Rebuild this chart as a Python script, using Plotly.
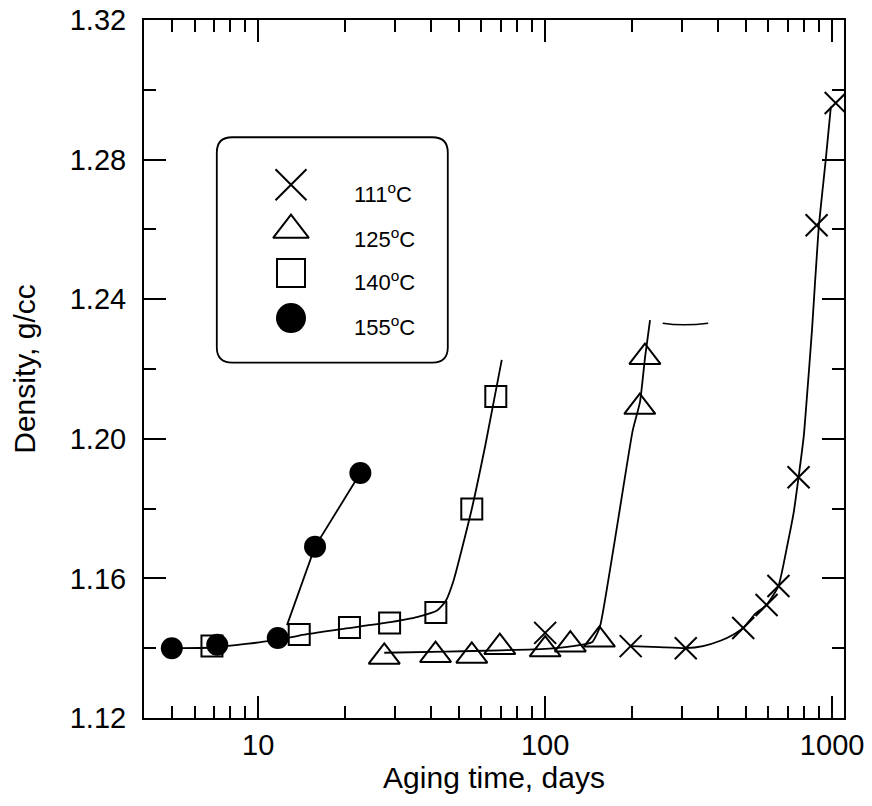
import plotly.graph_objects as go

# ---- data ----
x111 = [100, 198.6, 309, 490, 591, 650, 764, 883, 1029]
y111 = [1.1444, 1.1406, 1.1400, 1.1458, 1.1524, 1.1578, 1.1890, 1.2612, 1.2962]

x125 = [27.5, 41.5, 55.5, 69.5, 100, 122.4, 154.6, 213.7, 222.6]
y125 = [1.1375, 1.1380, 1.1378, 1.1403, 1.1396, 1.1410, 1.1424, 1.2091, 1.2234]

x140 = [6.9, 13.9, 20.8, 28.7, 41.6, 55.5, 67.3]
y140 = [1.1406, 1.1439, 1.1459, 1.1472, 1.1502, 1.1799, 1.2121]

x155 = [5.0, 7.2, 11.7, 15.78, 22.7]
y155 = [1.1400, 1.1410, 1.1429, 1.1691, 1.1902]

# fitted curves drawn through the data
fit111_x = [198.6, 250, 309, 355, 410, 450, 490, 540, 591, 650, 700, 735, 764, 797, 817, 851, 897, 950, 990]
fit111_y = [1.1406, 1.1403, 1.1400, 1.1406, 1.1422, 1.1438, 1.1458, 1.1499, 1.1524, 1.1578, 1.1700, 1.1790,
            1.1890, 1.2010, 1.2120, 1.2312, 1.2600, 1.2799, 1.2952]

fit125_x = [27.5, 45, 70, 100, 125, 146, 155, 166, 183, 202, 214, 223, 232]
fit125_y = [1.1387, 1.1390, 1.1394, 1.1398, 1.1406, 1.1418, 1.1460, 1.1595, 1.1810, 1.2025, 1.2105, 1.2235, 1.2340]

fit140_x = [5, 7, 12, 14, 20, 28, 36, 42, 45, 48, 55.5, 62, 70.6]
fit140_y = [1.1400, 1.1402, 1.1425, 1.1437, 1.1456, 1.1473, 1.1490, 1.1508, 1.1535, 1.1595, 1.1799, 1.1985, 1.2226]

fit155_x = [12.6, 15.78, 22.7]
fit155_y = [1.1466, 1.1691, 1.1902]

series_names = ["111<sup>o</sup>C", "125<sup>o</sup>C", "140<sup>o</sup>C", "155<sup>o</sup>C"]

x_tickvals = [10, 100, 1000]
x_ticktext = ["10", "100", "1000"]
x_minor = [5, 6, 7, 8, 9, 20, 30, 40, 50, 60, 70, 80, 90, 200, 300, 400, 500, 600, 700, 800, 900]
y_tickvals = [1.12, 1.16, 1.20, 1.24, 1.28, 1.32]
y_ticktext = ["1.12", "1.16", "1.20", "1.24", "1.28", "1.32"]
y_minor = [1.14, 1.18, 1.22, 1.26, 1.30]

FONT = "Liberation Sans, Arial, sans-serif"
BLACK = "black"

fig = go.Figure()

# fit lines
for fx, fy, shape in [(fit111_x, fit111_y, "spline"), (fit125_x, fit125_y, "spline"),
                      (fit140_x, fit140_y, "spline"), (fit155_x, fit155_y, "linear")]:
    fig.add_trace(go.Scatter(x=fx, y=fy, mode="lines",
                             line=dict(color=BLACK, width=1.8, shape=shape, smoothing=0.5),
                             showlegend=False, hoverinfo="skip"))

# markers
sym = dict(
    s111=dict(symbol="x-thin-open", size=22, color=BLACK, line=dict(color=BLACK, width=2)),
    s125=dict(symbol="triangle-up-open", size=27, color=BLACK, line=dict(color=BLACK, width=2)),
    s140=dict(symbol="square-open", size=21, color=BLACK, line=dict(color=BLACK, width=2)),
    s155=dict(symbol="circle", size=22, color=BLACK, line=dict(color=BLACK, width=0)),
)
fig.add_trace(go.Scatter(x=x140, y=y140, mode="markers", marker=sym["s140"], name=series_names[2], showlegend=False))
fig.add_trace(go.Scatter(x=x155, y=y155, mode="markers", marker=sym["s155"], name=series_names[3], showlegend=False))
fig.add_trace(go.Scatter(x=x125, y=y125, mode="markers", marker=sym["s125"], name=series_names[1], showlegend=False))
fig.add_trace(go.Scatter(x=x111, y=y111, mode="markers", marker=sym["s111"], name=series_names[0], showlegend=False))

# custom legend on an overlay axis (0..1 coordinates over the plot area)
leg_x = 0.21
leg_y = [0.764, 0.699, 0.6375, 0.573]
leg_markers = [
    dict(symbol="x-thin-open", size=31, color=BLACK, line=dict(color=BLACK, width=2)),
    dict(symbol="triangle-up-open", size=31, color=BLACK, line=dict(color=BLACK, width=2)),
    dict(symbol="square-open", size=28, color=BLACK, line=dict(color=BLACK, width=2)),
    dict(symbol="circle", size=30, color=BLACK, line=dict(color=BLACK, width=0)),
]
for yy, mk in zip(leg_y, leg_markers):
    fig.add_trace(go.Scatter(x=[leg_x], y=[yy], mode="markers", marker=mk, xaxis="x2", yaxis="y2",
                             showlegend=False, hoverinfo="skip"))
for yy, nm in zip(leg_y, series_names):
    fig.add_annotation(x=0.297, y=yy - 0.012, xref="paper", yref="paper", text=nm, showarrow=False,
                       xanchor="left", yanchor="middle", font=dict(family=FONT, size=22, color=BLACK))

# rounded legend box
x0, x1, y0, y1, r = 0.104, 0.434, 0.509, 0.832, 0.022
path = (f"M {x0+r},{y1} L {x1-r},{y1} Q {x1},{y1} {x1},{y1-r} L {x1},{y0+r} Q {x1},{y0} {x1-r},{y0} "
        f"L {x0+r},{y0} Q {x0},{y0} {x0},{y0+r} L {x0},{y1-r} Q {x0},{y1} {x0+r},{y1} Z")
fig.add_shape(type="path", path=path, xref="paper", yref="paper", line=dict(color=BLACK, width=1.8))

# small stray stroke present in the scanned figure
fig.add_shape(type="path", path="M 0.741,0.5655 Q 0.77,0.561 0.806,0.5655", xref="paper", yref="paper",
              line=dict(color=BLACK, width=1.5))

axis_common = dict(showline=True, linecolor=BLACK, linewidth=2, mirror="ticks", ticks="inside",
                   ticklen=22, tickwidth=1.8, tickcolor=BLACK, showgrid=False, zeroline=False,
                   automargin=False, ticklabeloverflow="allow",
                   tickfont=dict(family=FONT, size=29, color=BLACK))

fig.update_layout(
    width=872, height=806,
    margin=dict(l=136, r=36, t=12, b=96, autoexpand=False),
    paper_bgcolor="white", plot_bgcolor="white",
    showlegend=False,
    xaxis=dict(type="log", range=[0.60206, 3.0414], tickmode="array", tickvals=x_tickvals,
               ticktext=x_ticktext,
               minor=dict(tickmode="array", tickvals=x_minor, ticks="inside", ticklen=12,
                          tickwidth=1.8, tickcolor=BLACK, showgrid=False),
               title=dict(text="Aging time, days", font=dict(family=FONT, size=30, color=BLACK), standoff=4),
               **axis_common),
    yaxis=dict(range=[1.12, 1.32], tickmode="array", tickvals=y_tickvals, ticktext=y_ticktext,
               ticklabelstandoff=10,
               minor=dict(tickmode="array", tickvals=y_minor, ticks="inside", ticklen=12,
                          tickwidth=1.8, tickcolor=BLACK, showgrid=False),
               title=dict(text="Density, g/cc", font=dict(family=FONT, size=30, color=BLACK), standoff=30),
               **axis_common),
    xaxis2=dict(overlaying="x", range=[0, 1], visible=False, domain=[0, 1]),
    yaxis2=dict(overlaying="y", range=[0, 1], visible=False),
)

fig.write_html("out.html")
